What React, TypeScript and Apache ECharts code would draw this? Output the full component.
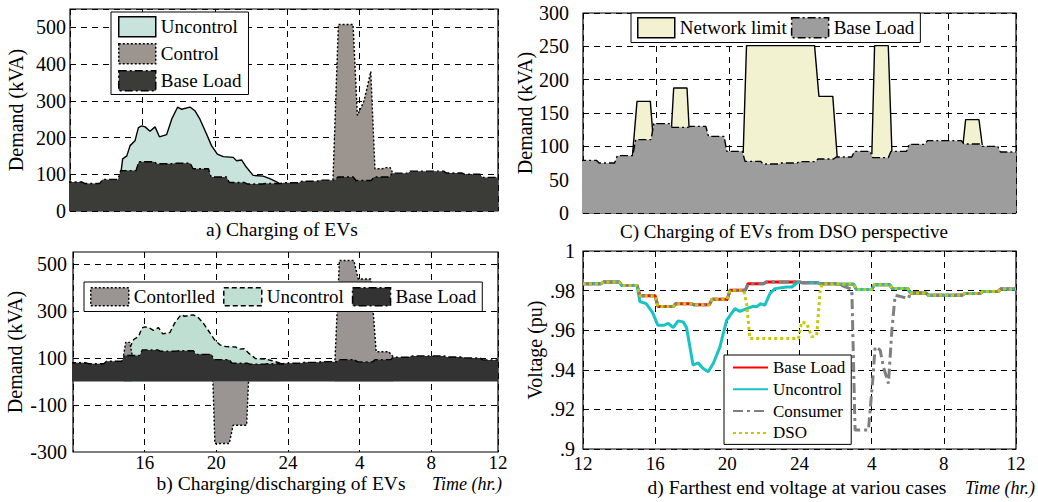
import React, { useEffect, useRef } from "react";
import * as echarts from "echarts";

// ---------- data ----------
const hours = [12, 13, 14, 15, 16, 17, 18, 19, 20, 21, 22, 23, 24, 25, 26, 27, 28, 29, 30, 31, 32, 33, 34, 35];
const baseLoad = [79, 75, 86, 110, 134, 128.5, 130, 115, 92.5, 77.5, 73.5, 75, 77, 81, 84, 92.5, 83, 92.5, 103, 108.5, 108.5, 103.5, 100, 91.5];
const baseVoltage = [0.9835, 0.9844, 0.9826, 0.9774, 0.972, 0.9734, 0.9728, 0.9756, 0.9802, 0.9835, 0.9844, 0.9844, 0.984, 0.9834, 0.9832, 0.9806, 0.983, 0.981, 0.9788, 0.9776, 0.9776, 0.9785, 0.9795, 0.9808];

// total demand, uncontrolled charging (kVA)
const uncontrolDemand: [number, number][] = [
  [15.12, 87], [15.26, 142], [15.49, 150], [15.67, 178], [15.94, 191], [16.13, 227], [16.31, 232], [16.5, 229],
  [16.77, 217], [17.05, 229], [17.29, 202], [17.69, 208], [17.97, 250], [18.3, 283], [18.52, 277], [18.98, 283],
  [19.25, 273], [19.53, 250], [19.9, 209], [20.17, 178], [20.49, 155], [20.82, 148], [21.37, 146], [21.55, 137],
  [21.83, 139], [22.1, 119], [22.47, 97], [23.02, 95], [23.39, 88], [23.9, 76],
];
// total demand, controlled charging (panel a)
const controlDemand: [number, number][] = [
  [26.88, 84], [27.18, 508], [27.99, 508], [28.23, 260], [28.6, 300], [28.97, 380], [29.2, 115], [29.6, 115],
  [29.8, 118], [30.05, 118], [30.2, 101],
];
// total demand, controlled charging/discharging (panel b)
const controlledEarly: [number, number][] = [[15.1, 110], [15.22, 166], [15.45, 166], [15.58, 112]];
const controlledDischarge: [number, number][] = [[20.05, 92.5], [20.2, -264], [21.0, -264], [21.22, -186], [21.97, -186], [22.12, 75]];
const controlledCharge: [number, number][] = [[26.9, 90], [27.15, 514], [27.95, 514], [28.2, 435], [28.9, 435], [29.2, 126], [29.9, 126], [30.15, 104]];
// network limit (panel c)
const limitBlocks: [number, number][][] = [
  [[14.98, 86], [15.23, 167.5], [15.96, 167.5], [16.1, 118]],
  [[17.12, 129], [17.24, 187.5], [17.97, 187.5], [18.08, 130]],
  [[21.05, 90], [21.23, 251], [24.96, 251], [25.2, 175], [25.96, 175], [26.2, 84]],
  [[28.1, 88], [28.25, 251], [29.0, 251], [29.2, 92]],
  [[33.1, 104], [33.24, 140], [33.97, 140], [34.15, 102]],
];
// farthest end voltage (pu)
const uncontrolVoltage: [number, number][] = [
  [15.0, 0.9826], [15.15, 0.9745], [15.5, 0.9734], [15.85, 0.969], [16.15, 0.9625], [16.5, 0.9625], [16.72, 0.9635],
  [17.0, 0.9613], [17.27, 0.9647], [17.55, 0.9642], [17.74, 0.9613], [18.1, 0.9424], [18.38, 0.9435], [18.66, 0.9407],
  [18.94, 0.939], [19.22, 0.9432], [19.59, 0.9516], [19.96, 0.965], [20.42, 0.9709], [20.7, 0.9695], [21.07, 0.9709],
  [21.44, 0.9721], [21.62, 0.9718], [21.84, 0.9734], [22.08, 0.9726], [22.36, 0.9785], [22.64, 0.981], [23.29, 0.9818],
  [23.57, 0.9818], [23.94, 0.9844], [24.1, 0.984],
];
const consumerVoltage: [number, number][] = [
  [26.9, 0.9806], [27.08, 0.9096], [27.82, 0.9096], [28.06, 0.9348], [28.19, 0.9516], [28.47, 0.95], [28.65, 0.9415],
  [28.93, 0.9331], [29.12, 0.96], [29.3, 0.9776], [29.58, 0.9771], [30.04, 0.976], [30.15, 0.9788],
];
const dsoVoltage: [number, number][] = [
  [20.9, 0.9802], [21.07, 0.9734], [21.25, 0.9558], [23.94, 0.9558], [24.12, 0.9642], [24.4, 0.9634], [24.68, 0.9566],
  [24.95, 0.9575], [25.14, 0.9793], [25.25, 0.9834],
];

const demandTicksB = [500, 300, 100, -100];

// ---------- helpers ----------
function steps(hs: number[], vals: number[], ramp = 0.15, end = 36): [number, number][] {
  const pts: [number, number][] = [];
  hs.forEach((h, i) => {
    pts.push([i === 0 ? h : h + ramp, vals[i]]);
    pts.push([i < hs.length - 1 ? hs[i + 1] : end, vals[i]]);
  });
  return pts;
}
function merge(base: [number, number][], seg: [number, number][]): [number, number][] {
  const t0 = seg[0][0];
  const t1 = seg[seg.length - 1][0];
  return [...base.filter((p) => p[0] < t0), ...seg, ...base.filter((p) => p[0] > t1)];
}

const FONT = "Liberation Serif, Times New Roman, Times, DejaVu Serif, serif";
const baseLoadPts = steps(hours, baseLoad);
const baseVoltPts = steps(hours, baseVoltage);

const DASHDOT = [8, 3, 2, 3];
const DOTTED = [2, 2];
const GRIDDASH = [6, 5];

function area(name: string, idx: number, data: [number, number][], fill: string, lineType: any, z: number, extra: any = {}) {
  return {
    type: "line", name, xAxisIndex: idx, yAxisIndex: idx, data, symbol: "none", silent: true, z,
    lineStyle: { color: "#000", width: 1.4, type: lineType },
    areaStyle: { color: fill, opacity: 1 },
    itemStyle: { color: fill },
    ...extra,
  };
}
function vline(name: string, data: [number, number][], color: string, type: any, z: number) {
  return {
    type: "line", name, xAxisIndex: 3, yAxisIndex: 3, data, symbol: "none", silent: true, z,
    lineStyle: { color, width: 3, type },
    itemStyle: { color },
  };
}

const hourLabel = (v: number) => {
  const h = Math.round(v);
  return String(h > 24 ? h - 24 : h);
};

// rich-text wrapper so that axis texts get the serif family
const RICH = { s: { fontFamily: FONT, fontSize: 20, color: "#000" } };
const wrap = (t: string) => (t === "" ? "" : `{s|${t}}`);

function xAxis(idx: number, min: number, showLabels: boolean, margin: number) {
  return {
    type: "value", gridIndex: idx, min, max: 36, interval: 4,
    axisLine: { show: false }, axisTick: { show: false },
    axisLabel: {
      show: showLabels, showMinLabel: min === 12, fontSize: 19, color: "#000", margin, fontFamily: FONT,
      formatter: (v: number) => wrap(hourLabel(v)), rich: { s: { fontFamily: FONT, fontSize: 19, color: "#000" } },
    },
    splitLine: { show: true, lineStyle: { color: "#000", type: GRIDDASH, width: 1 } },
  };
}

const legendBox = {
  backgroundColor: "#fff", borderColor: "#000", borderWidth: 1, borderRadius: 0, selectedMode: false,
  formatter: (n: string) => n.split("|")[1],
};
const nameStyle = { fontSize: 20, fontFamily: FONT, color: "#000", rich: RICH };
const captionFont = (size: number, italic = false) => `${italic ? "italic " : ""}${size}px ${FONT}`;

function yAxis(idx: number, min: number, max: number, interval: number, name: string, nameGap: number, margin: number, fmt: (v: number) => string, grid: boolean, extra: any = {}) {
  return {
    type: "value", gridIndex: idx, min, max, interval,
    name: wrap(name), nameLocation: "middle", nameGap, nameTextStyle: nameStyle,
    axisLine: { show: false }, axisTick: { show: false },
    axisLabel: { fontSize: 20, margin, color: "#000", fontFamily: FONT, formatter: (v: number) => wrap(fmt(v)), rich: RICH, ...extra },
    splitLine: { show: grid, lineStyle: { color: "#000", type: GRIDDASH, width: 1 } },
  };
}

export default function App() {
  const ref = useRef<HTMLDivElement>(null);
  useEffect(() => {
    if (!ref.current) return;
    const chart = echarts.init(ref.current, null, { renderer: "svg" });
    const gridBase = { show: true, borderColor: "#000", borderWidth: 1.2, backgroundColor: "transparent" };
    const option: any = {
      animation: false,
      textStyle: { fontFamily: FONT, color: "#000" },
      grid: [
        { left: 70, top: 9, width: 428, height: 202, ...gridBase },
        { left: 73, top: 252, width: 425, height: 200, ...gridBase },
        { left: 583, top: 13, width: 433, height: 200, ...gridBase },
        { left: 583, top: 251, width: 433, height: 198, ...gridBase },
      ],
      xAxis: [xAxis(0, 12.35, false, 8), xAxis(1, 12.28, true, 1), xAxis(2, 12.27, false, 8), xAxis(3, 12, true, 5)],
      yAxis: [
        yAxis(0, 0, 550, 100, "Demand (kVA)", 44, 4, (v) => String(v), true, { showMaxLabel: false }),
        yAxis(1, -300, 550, 100, "Demand (kVA)", 48, 6, (v) => (Math.round(v + 300) % 200 === 0 ? String(v) : ""), false),
        yAxis(2, 0, 300, 50, "Demand (kVA)", 42, 14, (v) => String(v), true),
        yAxis(3, 0.9, 1, 0.02, "Voltage (pu)", 38, 8, (v) => (v >= 0.9999 ? "1" : v.toFixed(2).replace(/^0/, "").replace(/0$/, "")), true),
      ],
      legend: [
        {
          ...legendBox, orient: "vertical", left: 111, top: 12, itemWidth: 37, itemHeight: 20, itemGap: 5.5,
          padding: [4, 7, 3, 7], textStyle: { fontSize: 19, fontFamily: FONT, color: "#000" },
          data: [
            { name: "a|Uncontrol", icon: "rect", itemStyle: { color: "#c8e3dc", borderColor: "#000", borderWidth: 1.5, borderType: "solid" } },
            { name: "a|Control", icon: "rect", itemStyle: { color: "#9c948f", borderColor: "#000", borderWidth: 1.5, borderType: DOTTED } },
            { name: "a|Base Load", icon: "rect", itemStyle: { color: "#3b3b37", borderColor: "#000", borderWidth: 1.5, borderType: DASHDOT } },
          ],
        },
        {
          ...legendBox, orient: "horizontal", left: 84, top: 282, itemWidth: 38, itemHeight: 18, itemGap: 8,
          padding: [5, 6, 5, 6], textStyle: { fontSize: 19, fontFamily: FONT, color: "#000" },
          data: [
            { name: "b|Contorlled", icon: "rect", itemStyle: { color: "#9a9593", borderColor: "#000", borderWidth: 1.5, borderType: DOTTED } },
            { name: "b|Uncontrol", icon: "rect", itemStyle: { color: "#bfdfd2", borderColor: "#000", borderWidth: 1.5, borderType: [5, 3] } },
            { name: "b|Base Load", icon: "rect", itemStyle: { color: "#333333", borderColor: "#000", borderWidth: 1.5, borderType: DASHDOT } },
          ],
        },
        {
          ...legendBox, orient: "horizontal", left: 631, top: 13, itemWidth: 37, itemHeight: 20, itemGap: 4,
          padding: [4, 6, 4, 6], textStyle: { fontSize: 19, fontFamily: FONT, color: "#000" },
          data: [
            { name: "c|Network limit", icon: "rect", itemStyle: { color: "#f2f2d0", borderColor: "#000", borderWidth: 1.5, borderType: "solid" } },
            { name: "c|Base Load", icon: "rect", itemStyle: { color: "#9d9d9d", borderColor: "#000", borderWidth: 1.5, borderType: DASHDOT } },
          ],
        },
        {
          ...legendBox, orient: "vertical", left: 724, top: 355, itemWidth: 35, itemHeight: 14, itemGap: 4.8,
          padding: [4, 6, 3, 8], textStyle: { fontSize: 17, fontFamily: FONT, color: "#000" },
          data: ["d|Base Load", "d|Uncontrol", "d|Consumer", "d|DSO"].map((name) => ({
            name, itemStyle: { opacity: 0 },
          })),
        },
      ],
      series: [
        // panel a
        area("a|Uncontrol", 0, uncontrolDemand, "#c8e3dc", "solid", 2),
        area("a|Control", 0, controlDemand, "#9c948f", DOTTED, 3),
        area("a|Base Load", 0, baseLoadPts, "#3b3b37", DASHDOT, 4),
        // panel b
        area("b|Uncontrol", 1, uncontrolDemand, "#bfdfd2", [5, 3], 2),
        area("b|Contorlled", 1, controlledEarly, "#9a9593", DOTTED, 3),
        area("b|Contorlled", 1, controlledDischarge, "#9a9593", DOTTED, 3),
        area("b|Contorlled", 1, controlledCharge, "#9a9593", DOTTED, 3),
        area("b|Base Load", 1, baseLoadPts, "#333333", DASHDOT, 4, {
          markLine: {
            silent: true, z: 1, symbol: ["none", "none"], label: { show: false }, animation: false,
            lineStyle: { color: "#000", type: GRIDDASH, width: 1 },
            emphasis: { disabled: true },
            data: demandTicksB.map((v) => ({ yAxis: v })),
          },
        }),
        // panel c
        ...limitBlocks.map((blk) => area("c|Network limit", 2, blk, "#f2f2d0", "solid", 2)),
        area("c|Base Load", 2, baseLoadPts, "#9d9d9d", DASHDOT, 4),
        // panel d
        vline("d|Base Load", baseVoltPts, "#ff0000", "solid", 2),
        vline("d|Uncontrol", merge(baseVoltPts, uncontrolVoltage), "#19c3c3", "solid", 3),
        vline("d|Consumer", merge(baseVoltPts, consumerVoltage), "#7f7f7f", [10, 4, 3, 4], 4),
        vline("d|DSO", merge(baseVoltPts, dsoVoltage), "#c8c800", [3, 3], 5),
      ],
      graphic: [
        { type: "text", x: 282, y: 229, style: { text: "a) Charging of EVs", font: captionFont(19.5), fill: "#000", textAlign: "center", textVerticalAlign: "middle" } },
        { type: "text", x: 281, y: 483, style: { text: "b) Charging/discharging of EVs", font: captionFont(19.5), fill: "#000", textAlign: "center", textVerticalAlign: "middle" } },
        { type: "text", x: 502, y: 484, style: { text: "Time (hr.)", font: captionFont(18, true), fill: "#000", textAlign: "right", textVerticalAlign: "middle" } },
        { type: "text", x: 784, y: 231, style: { text: "C) Charging of EVs from DSO perspective", font: captionFont(19), fill: "#000", textAlign: "center", textVerticalAlign: "middle" } },
        { type: "text", x: 797, y: 487, style: { text: "d) Farthest end voltage at variou cases", font: captionFont(19.5), fill: "#000", textAlign: "center", textVerticalAlign: "middle" } },
        { type: "text", x: 1035, y: 488, style: { text: "Time (hr.)", font: captionFont(18, true), fill: "#000", textAlign: "right", textVerticalAlign: "middle" } },
      ],
    };
    chart.setOption(option);
    return () => chart.dispose();
  }, []);
  return (
    <div
      ref={ref}
      style={{ position: "fixed", left: 0, top: 0, width: 1038, height: 502, background: "#fff" }}
    />
  );
}
